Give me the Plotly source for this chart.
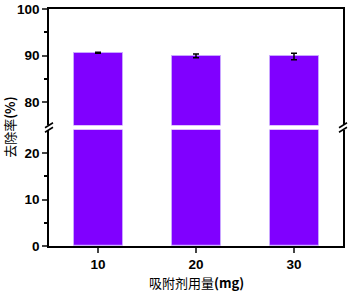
import plotly.graph_objects as go

dose = [10, 20, 30]
removal = [90.6, 89.9, 89.8]
err = [0.12, 0.4, 0.7]

lower_ticks = [0, 10, 20]
upper_ticks = [80, 90, 100]

BAR = "#8000FF"
EDGE = "#C9A6FF"
FONT = "Liberation Sans"

fig = go.Figure()
fig.add_trace(go.Bar(x=dose, y=removal, width=5, marker=dict(color=BAR, line=dict(color=EDGE, width=1)),
                     xaxis="x", yaxis="y", showlegend=False))
fig.add_trace(go.Bar(x=dose, y=removal, width=5, marker=dict(color=BAR, line=dict(color=EDGE, width=1)),
                     error_y=dict(type="data", array=err, color="black", thickness=1.5, width=3),
                     xaxis="x2", yaxis="y2", showlegend=False))

lo_top = 0.4905
up_bot = 0.5095
tickfont = dict(family=FONT, size=13.5, color="black", weight="bold")
cjk = "Noto Sans CJK SC, " + FONT

fig.update_layout(
    width=349, height=291,
    margin=dict(l=49, r=6, t=9, b=45, autoexpand=False),
    paper_bgcolor="white", plot_bgcolor="white",
    bargap=0,
    xaxis=dict(range=[5, 35], domain=[0, 1], anchor="y", tickvals=dose, ticktext=[str(d) for d in dose],
               ticks="outside", ticklen=5, tickwidth=1.5, showline=True, linecolor="black", linewidth=1.5,
               showgrid=False, zeroline=False, tickfont=tickfont, automargin=False),
    xaxis2=dict(range=[5, 35], domain=[0, 1], anchor="y2", side="top", matches="x", showticklabels=False,
                ticks="", showline=True, linecolor="black", linewidth=1.5, showgrid=False, zeroline=False,
                automargin=False),
    yaxis=dict(range=[0, 25], domain=[0, lo_top], anchor="x", tickvals=lower_ticks, ticks="outside",
               ticklen=5, tickwidth=1.5, showline=True, mirror=True, linecolor="black", linewidth=1.5,
               showgrid=False, zeroline=False, tickfont=tickfont, automargin=False,
               minor=dict(tickvals=[5, 15], ticks="outside", ticklen=3, tickwidth=1.5, tickcolor="black", showgrid=False)),
    yaxis2=dict(range=[75, 100], domain=[up_bot, 1], anchor="x2", tickvals=upper_ticks, ticks="outside",
                ticklen=5, tickwidth=1.5, showline=True, mirror=True, linecolor="black", linewidth=1.5,
                showgrid=False, zeroline=False, tickfont=tickfont, automargin=False,
                minor=dict(tickvals=[85, 95], ticks="outside", ticklen=3, tickwidth=1.5, tickcolor="black", showgrid=False)),
    annotations=[
        dict(text="去除率<b>(%)</b>", textangle=-90, xref="paper", yref="paper", x=-0.135, y=0.5,
             xanchor="center", yanchor="middle", showarrow=False,
             font=dict(family=cjk, size=13, color="black")),
        dict(text="吸附剂用量<b>(mg)</b>", xref="paper", yref="paper", x=0.5, y=-0.155,
             xanchor="center", yanchor="middle", showarrow=False,
             font=dict(family=cjk, size=13, color="black")),
    ],
)

dx = 4 / 294
dy = 2.5 / 236.5
shapes = []
for xp in (0, 1):
    for yc in (lo_top, up_bot):
        shapes.append(dict(type="line", xref="paper", yref="paper", x0=xp - dx, x1=xp + dx,
                           y0=yc - dy, y1=yc + dy, line=dict(color="black", width=1.5)))
fig.update_layout(shapes=shapes)

fig.write_html("out.html", config={"displayModeBar": False},
               post_script="document.body.style.margin='0';document.body.style.overflow='hidden';")
